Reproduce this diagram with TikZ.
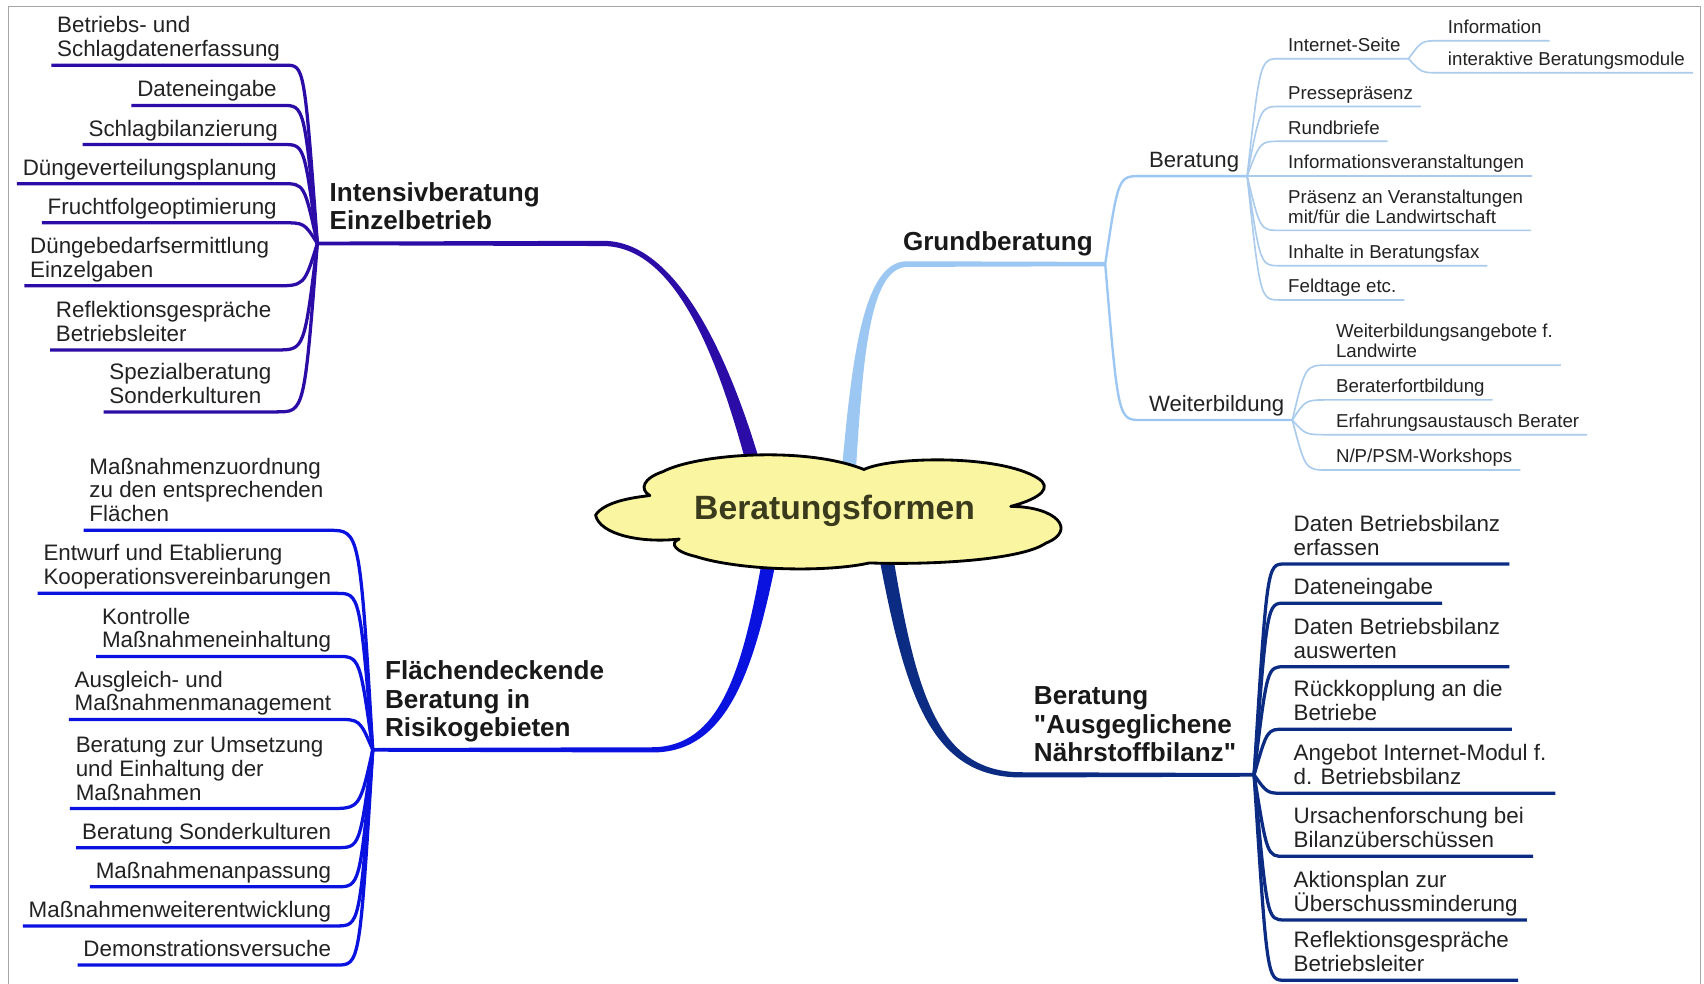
\documentclass[tikz,border=0pt]{standalone}
\usepackage{fontspec}
\setmainfont{Liberation Sans}
\usetikzlibrary{calc}
\definecolor{indigo}{HTML}{2C0CA6}
\definecolor{lblue}{HTML}{9CC7F2}
\definecolor{lblue2}{HTML}{AACBEB}
\definecolor{fblue}{HTML}{0A12E0}
\definecolor{navy}{HTML}{0C2C84}
\definecolor{cloudy}{HTML}{FAF5A0}
\definecolor{txt}{HTML}{222222}
\definecolor{roottxt}{HTML}{3A3A1C}
\tikzset{
  leaf/.style={inner xsep=2.5pt, inner ysep=1.4pt, text depth=2.3pt, align=left, text=txt, font=\fontsize{10.3}{11}\selectfont},
  subleaf/.style={leaf, inner xsep=3.5pt, inner ysep=1.2pt, text depth=1.9pt, font=\fontsize{8.6}{9.2}\selectfont},
  midlbl/.style={leaf, inner xsep=3.5pt, font=\fontsize{10.2}{11}\selectfont},
  mainlbl/.style={inner xsep=5.5pt, inner ysep=6pt, text depth=0pt, align=left, text=black!90, font=\bfseries\fontsize{12}{13}\selectfont},
  ibr/.style={draw=indigo, line width=1.5pt},
  fbr/.style={draw=fblue, line width=1.5pt},
  nbr/.style={draw=navy, line width=1.5pt},
  gmid/.style={draw=lblue, line width=1.1pt},
  gsub/.style={draw=lblue2, line width=0.75pt},
}

\begin{document}
\begin{tikzpicture}[x=0.5pt, y=-0.5pt]
  \useasboundingbox (0,0) rectangle (1568,905);
  % Frame
  \draw[black!35, line width=0.6pt] (8,905) -- (8,6) -- (1565,6) -- (1565,905);

  % Main labels
  \coordinate (ctr) at (768,470);
  \node[mainlbl, anchor=south west] (intens) at (292,224) {Intensivberatung\\Einzelbetrieb};
  \node[mainlbl, anchor=south east] (grund) at (1017,243) {Grundberatung};
  \node[mainlbl, anchor=south west] (flaech) at (343,690) {Flächendeckende\\Beratung in\\Risikogebieten};
  \node[mainlbl, anchor=south west] (naehr) at (940,713) {Beratung\\\textquotedbl Ausgeglichene\\Nährstoffbilanz\textquotedbl};
  \coordinate (hI) at (intens.south west);
  \coordinate (hG) at (grund.south east);
  \coordinate (hF) at (flaech.south west);
  \coordinate (hN) at (1154,713);

  % Main branches (tapered)
  \coordinate (kI) at ($(ctr)+(-75,-44)$);
  \coordinate (bI) at (555,224);
  \fill[indigo] ($(hI)+(0,-1.7)$) -- ($(bI)+(0,-2.4)$) .. controls (625,221.3) and (673,336) .. ($(kI)+(6.5,0)$)
    -- ($(kI)+(-6.5,0)$) .. controls (663,340) and (625,226.7) .. ($(bI)+(0,2.4)$) -- ($(hI)+(0,1.7)$) -- cycle;
  \coordinate (kG) at ($(ctr)+(13,-36)$);
  \coordinate (bG) at (835,243);
  \fill[lblue] ($(kG)+(-6.5,0)$) .. controls (784,330) and (794,240) .. ($(bG)+(0,-2.6)$) -- ($(hG)+(0,-2)$)
    -- ($(hG)+(0,2)$) -- ($(bG)+(0,2.6)$) .. controls (800,246) and (794,330) .. ($(kG)+(6.5,0)$) -- cycle;
  \coordinate (kF) at ($(ctr)+(-60,44)$);
  \coordinate (bF) at (600,690);
  \fill[fblue] ($(kF)+(6.5,0)$) .. controls (693,621) and (668,692.7) .. ($(bF)+(0,2.4)$) -- ($(hF)+(0,1.7)$)
    -- ($(hF)+(0,-1.7)$) -- ($(bF)+(0,-2.4)$) .. controls (662,687.3) and (683,619) .. ($(kF)+(-6.5,0)$) -- cycle;
  \coordinate (kN) at ($(ctr)+(47,40)$);
  \coordinate (bN) at (940,713);
  \fill[navy] ($(kN)+(-6.5,0)$) .. controls (833,641) and (857,715.7) .. ($(bN)+(0,2.4)$) -- ($(hN)+(0,1.7)$)
    -- ($(hN)+(0,-1.7)$) -- ($(bN)+(0,-2.4)$) .. controls (863,710.3) and (843,639) .. ($(kN)+(6.5,0)$) -- cycle;

  % Cloud
  \draw[fill=cloudy, line width=1.3pt, line join=round] (548,474)
    .. controls (556,462) and (580,458) .. (598,456)
    .. controls (588,450) and (592,440) .. (610,434)
    .. controls (640,418) and (740,410) .. (795,432)
    .. controls (820,420) and (920,418) .. (955,440)
    .. controls (968,448) and (960,458) .. (930,466)
    .. controls (972,466) and (992,488) .. (962,500)
    .. controls (940,515) and (860,520) .. (800,518)
    .. controls (760,527) and (680,525) .. (640,512)
    .. controls (622,508) and (615,500) .. (625,496)
    .. controls (590,500) and (552,492) .. (548,474) -- cycle;
  \node[text=roottxt, font=\bfseries\fontsize{15.5}{17}\selectfont] (root) at (ctr) {Beratungsformen};

  % Intensivberatung Einzelbetrieb
  \foreach \n/\x/\y/\t in {1/263/60/{Betriebs- und\\Schlagdatenerfassung}, 2/260/97/Dateneingabe,
      3/261/133/Schlagbilanzierung, 4/260/169/Düngeverteilungsplanung, 5/260/205/Fruchtfolgeoptimierung,
      6/253/263/{Düngebedarfsermittlung\\Einzelgaben}, 7/255/322/{Reflektionsgespräche\\Betriebsleiter},
      8/255/379/{Spezialberatung\\Sonderkulturen}}{
    \node[leaf, anchor=south east] (i\n) at (\x,\y) {\t};
    \draw[ibr] (hI) .. controls ($(hI |- i\n.south)+(-12,0)$) .. (i\n.south east) -- (i\n.south west);
  }

  % Flaechendeckende Beratung
  \foreach \n/\x/\y/\t in {1/303/488/{Maßnahmenzuordnung\\zu den entsprechenden\\Flächen},
      2/310/546/{Entwurf und Etablierung\\Kooperationsvereinbarungen}, 3/310/604/{Kontrolle\\Maßnahmeneinhaltung},
      4/310/662/{Ausgleich- und\\Maßnahmenmanagement}, 5/303/744/{Beratung zur Umsetzung\\und Einhaltung der\\Maßnahmen},
      6/310/780/Beratung Sonderkulturen, 7/310/816/Maßnahmenanpassung, 8/310/852/Maßnahmenweiterentwicklung,
      9/310/888/Demonstrationsversuche}{
    \node[leaf, anchor=south east] (f\n) at (\x,\y) {\t};
    \draw[fbr] (hF) .. controls ($(hF |- f\n.south)+(-12,0)$) .. (f\n.south east) -- (f\n.south west);
  }

  % Ausgeglichene Naehrstoffbilanz
  \foreach \n/\y/\t in {1/519/{Daten Betriebsbilanz\\erfassen}, 2/555/Dateneingabe,
      3/613.5/{Daten Betriebsbilanz\\auswerten}, 4/671/{Rückkopplung an die\\Betriebe},
      5/730/{Angebot Internet-Modul f.\\d. Betriebsbilanz}, 6/788/{Ursachenforschung bei\\Bilanzüberschüssen},
      7/846.5/{Aktionsplan zur\\Überschussminderung}, 8/902/{Reflektionsgespräche\\Betriebsleiter}}{
    \node[leaf, inner xsep=4pt, anchor=south west] (n\n) at (1182,\y) {\t};
    \draw[nbr] (hN) .. controls ($(hN |- n\n.south)+(12,0)$) .. (n\n.south west) -- (n\n.south east);
  }

  % Grundberatung
  \node[midlbl, anchor=south west] (ber) at (1050,162) {Beratung};
  \node[midlbl, anchor=south west] (wb) at (1050,386.5) {Weiterbildung};
  \draw[gmid] (hG) .. controls ($(hG |- ber.south)+(12,0)$) .. (ber.south west) -- (ber.south east);
  \draw[gmid] (hG) .. controls ($(hG |- wb.south)+(12,0)$) .. (wb.south west) -- (wb.south east);

  \foreach \n/\y/\t in {is/54/Internet-Seite, pp/98/Pressepräsenz, rb/130/Rundbriefe,
      iv/162/Informationsveranstaltungen, pv/212/{Präsenz an Veranstaltungen\\mit/für die Landwirtschaft},
      ib/244.5/Inhalte in Beratungsfax, ft/276/Feldtage etc.}{
    \node[subleaf, anchor=south west] (\n) at (1178,\y) {\t};
    \draw[gsub] (ber.south east) .. controls ($(ber.south east |- \n.south)+(12,0)$) .. (\n.south west) -- (\n.south east);
  }
  \foreach \n/\y/\t in {info/37.5/Information, iam/67/interaktive Beratungsmodule}{
    \node[subleaf, anchor=south west] (\n) at (1325,\y) {\t};
    \draw[gsub] (is.south east) .. controls ($(is.south east |- \n.south)+(12,0)$) .. (\n.south west) -- (\n.south east);
  }
  \foreach \n/\y/\t in {w1/336/{Weiterbildungsangebote f.\\Landwirte}, w2/368/Beraterfortbildung,
      w3/400/Erfahrungsaustausch Berater, w4/432.5/{N/P/PSM-Workshops}}{
    \node[subleaf, anchor=south west] (\n) at (1222,\y) {\t};
    \draw[gsub] (wb.south east) .. controls ($(wb.south east |- \n.south)+(12,0)$) .. (\n.south west) -- (\n.south east);
  }
\end{tikzpicture}
\end{document}
